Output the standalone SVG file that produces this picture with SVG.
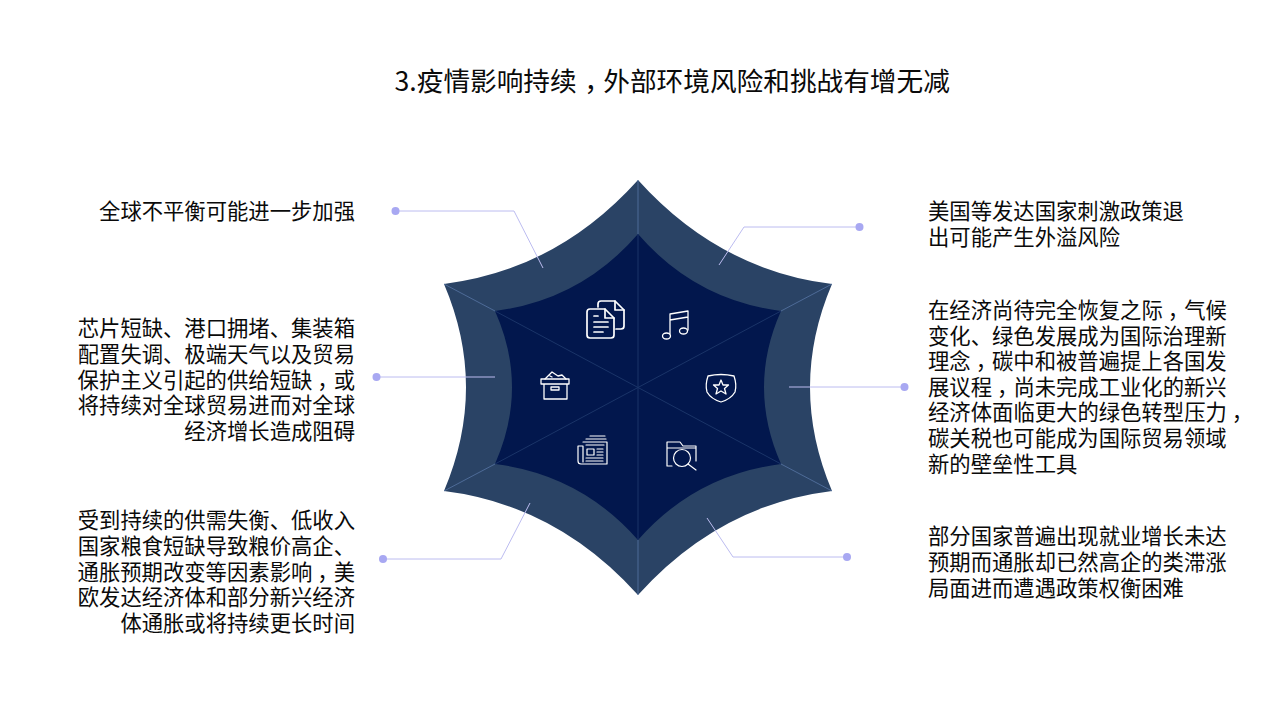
<svg xmlns="http://www.w3.org/2000/svg" width="1280" height="720" viewBox="0 0 1280 720">
<style>
text{font-family:"Noto Sans CJK SC","Noto Sans",sans-serif;font-size:21.33px;fill:#0a0a0a}
.t{font-size:26.67px}
.r{text-anchor:end}
.c{fill:none;stroke:#bcbcf0;stroke-width:1}
.d{fill:#a8a8f2}
.s{fill:none;stroke:#5a78a8;stroke-width:1;opacity:.75}
.n{fill:none;stroke:#1a3468;stroke-width:1}
.i{fill:none;stroke:#fff;stroke-width:1.7;stroke-linejoin:round;stroke-linecap:round}
.j{fill:none;stroke:#fff;stroke-width:1.3;stroke-linejoin:round;stroke-linecap:round}
</style>
<rect width="1280" height="720" fill="#fff"/>
<text class="t" x="394.500" y="91" dx="0 0 0 0 0 0 0 0 7.500 -7.500">3.疫情影响持续，外部环境风险和挑战有增无减</text>
<g id="star">
<path fill="#2a4365" d="M638 180Q719 270 832 284Q788 387 832 491Q719 505 638 595Q557 505 444 491Q488 387 444 284Q557 270 638 180Z"/>
<path fill="#02174d" d="M638 234Q695 300 781 311Q747 387 781 464Q695 475 638 540Q581 475 495 464Q529 387 495 311Q581 300 638 234Z"/>
<path class="n" d="M638 234V540M495 311L781 464M781 311L495 464"/>
<path class="s" d="M638 180V234M638 540V595M444 284L495 311M832 284L781 311M444 491L495 464M832 491L781 464"/>
</g>
<g id="connectors">
<path class="c" d="M395 211H514L543 268"/>
<path class="c" d="M859 227H744L719 265"/>
<path class="c" d="M376 377H495"/>
<path class="c" d="M905 387H789"/>
<path class="c" d="M383 559H501L530 503"/>
<path class="c" d="M847 557H733L707 518"/>
<circle class="d" cx="395.500" cy="211" r="4"/>
<circle class="d" cx="859.500" cy="227" r="4"/>
<circle class="d" cx="376.500" cy="377" r="4"/>
<circle class="d" cx="904.500" cy="387" r="4"/>
<circle class="d" cx="383" cy="559" r="4"/>
<circle class="d" cx="847" cy="557" r="4"/>
</g>
<g id="icon-docs" class="i">
<path d="M598 307V304Q598 301 601 301H615L624 310V326Q624 329 621 329H616"/>
<path d="M615 301V310H624"/>
<path d="M587 312Q587 309 590 309H605L614 318V335Q614 338 611 338H590Q587 338 587 335Z"/>
<path d="M605 309V318H614"/>
<path d="M594 316H598M594 322H608M594 327H608M594 332H603"/>
</g>
<g id="icon-music" class="j">
<path d="M670 334V314L688 311V330M670 320L688 317"/>
<ellipse cx="666.500" cy="336" rx="4" ry="3"/>
<ellipse cx="683.500" cy="331" rx="4" ry="3"/>
</g>
<g id="icon-box" class="j">
<path d="M541 379H569V384H541ZM544 384V399H567V384M551 387H559V390H551Z"/>
<path d="M545 379L552 372L558 376L562 375L566 379M550 376L552 377"/>
</g>
<g id="icon-shield" class="j">
<path d="M708 376Q721 373 734 376Q737 385 735 392Q731 399 721 402Q711 399 707 392Q705 385 708 376Z"/>
<path d="M721 380L723 385H728.500L724.500 388.500L726 394L721 391L716 394L717.500 388.500L713.500 385H719Z"/>
</g>
<g id="icon-news" class="j" style="stroke-width:1.200">
<path d="M590 436H605M586 439H606M583 442H607V464H581Q578 464 578 461V446H583V462"/>
<path d="M586 445H604M587 449H594V455H587ZM597 449H603M597 452H603M597 455H603M586 458H603M586 461H603"/>
</g>
<g id="icon-search" class="j" style="stroke-width:1.200">
<path d="M672 466H667V442H680L683 446H696V461M667 448H696"/>
<circle cx="682" cy="458" r="8.500"/>
<path d="M688 464L696 470"/>
</g>
<g id="texts">
<text class="r" x="355" y="219">全球不平衡可能进一步加强</text>
<text class="r"><tspan x="355" y="336">芯片短缺、港口拥堵、集装箱</tspan><tspan x="355" y="362">配置失调、极端天气以及贸易</tspan><tspan x="355" y="388" dx="0 0 0 0 0 0 0 0 0 0 0 5 -5">保护主义引起的供给短缺，或</tspan><tspan x="355" y="413">将持续对全球贸易进而对全球</tspan><tspan x="355" y="439">经济增长造成阻碍</tspan></text>
<text class="r"><tspan x="355" y="528">受到持续的供需失衡、低收入</tspan><tspan x="355" y="554">国家粮食短缺导致粮价高企、</tspan><tspan x="355" y="580" dx="0 0 0 0 0 0 0 0 0 0 0 5 -5">通胀预期改变等因素影响，美</tspan><tspan x="355" y="605">欧发达经济体和部分新兴经济</tspan><tspan x="355" y="631">体通胀或将持续更长时间</tspan></text>
<text><tspan x="928" y="219">美国等发达国家刺激政策退</tspan><tspan x="928" y="245">出可能产生外溢风险</tspan></text>
<text><tspan x="928" y="318" dx="0 0 0 0 0 0 0 0 0 0 0 5 -5">在经济尚待完全恢复之际，气候</tspan><tspan x="928" y="344">变化、绿色发展成为国际治理新</tspan><tspan x="928" y="369" dx="0 0 5 -5">理念，碳中和被普遍提上各国发</tspan><tspan x="928" y="395" dx="0 0 0 5 -5">展议程，尚未完成工业化的新兴</tspan><tspan x="928" y="420" dx="0 0 0 0 0 0 0 0 0 0 0 0 0 0 5">经济体面临更大的绿色转型压力，</tspan><tspan x="928" y="446">碳关税也可能成为国际贸易领域</tspan><tspan x="928" y="472">新的壁垒性工具</tspan></text>
<text><tspan x="928" y="544">部分国家普遍出现就业增长未达</tspan><tspan x="928" y="570">预期而通胀却已然高企的类滞涨</tspan><tspan x="928" y="596">局面进而遭遇政策权衡困难</tspan></text>
</g>
</svg>
